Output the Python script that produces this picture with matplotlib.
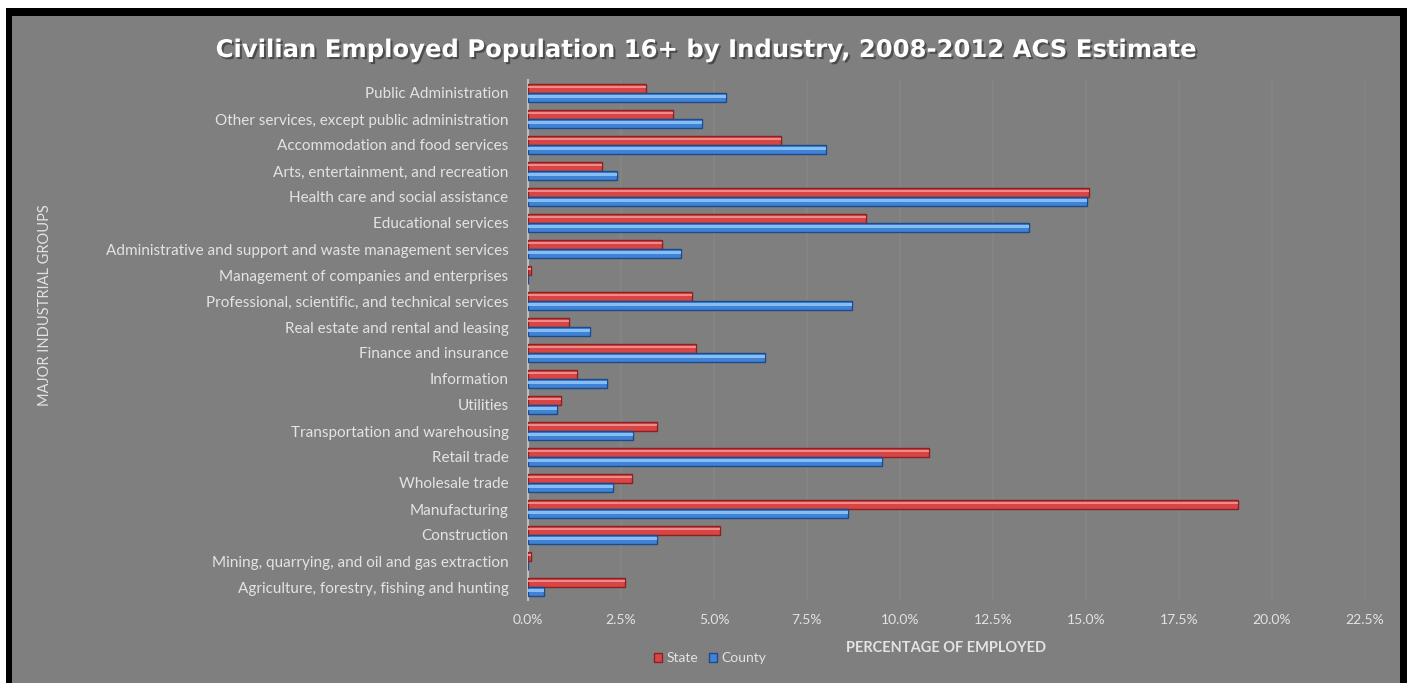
import matplotlib
matplotlib.use("Agg")
import matplotlib.pyplot as plt
import matplotlib.patheffects as pe
from matplotlib.patches import Rectangle
from matplotlib.ticker import FuncFormatter
import numpy as np

# категории (снизу вверх, как на графике)
industries = [
    "Agriculture, forestry, fishing and hunting",
    "Mining, quarrying, and oil and gas extraction",
    "Construction",
    "Manufacturing",
    "Wholesale trade",
    "Retail trade",
    "Transportation and warehousing",
    "Utilities",
    "Information",
    "Finance and insurance",
    "Real estate and rental and leasing",
    "Professional, scientific, and technical services",
    "Management of companies and enterprises",
    "Administrative and support and waste management services",
    "Educational services",
    "Health care and social assistance",
    "Arts, entertainment, and recreation",
    "Accommodation and food services",
    "Other services, except public administration",
    "Public Administration",
]

# проценты занятых
state = [2.6, 0.08, 5.16, 19.09, 2.8, 10.78, 3.47, 0.89, 1.32, 4.52,
         1.1, 4.41, 0.08, 3.6, 9.09, 15.08, 1.99, 6.8, 3.9, 3.17]
county = [0.42, 0.0, 3.47, 8.6, 2.28, 9.52, 2.82, 0.78, 2.12, 6.37,
          1.67, 8.71, 0.0, 4.11, 13.47, 15.03, 2.39, 8.01, 4.68, 5.32]

x_ticks = np.arange(0, 22.6, 2.5)

bg = "#7f7f7f"
txt = "#e3e3e3"
label_font = ["Lato", "DejaVu Sans"]

fig = plt.figure(figsize=(14.09, 6.83), dpi=100, facecolor="white")
W, H = 1409, 683

# рамка: белое поле, черная рамка, серый фон
fig.patches.append(Rectangle((6 / W, 0), 1401 / W, 675 / H, transform=fig.transFigure,
                             facecolor="black", edgecolor="none", zorder=-3))
fig.patches.append(Rectangle((12 / W, 0), 1388 / W, 667 / H, transform=fig.transFigure,
                             facecolor=bg, edgecolor="none", zorder=-2))

ax = fig.add_axes([528 / W, 83 / H, 837 / W, 520 / H])
ax.set_facecolor(bg)

y = np.arange(len(industries))
h = 0.34
off = 0.18

# основные полосы + светлая полоска сверху для объема
ax.barh(y + off, state, height=h, color="#d84545", edgecolor="#8a2222", linewidth=1.0, zorder=3)
ax.barh(y + off + 0.05, state, height=h * 0.3, color="#f08a8a", linewidth=0, zorder=4)
ax.barh(y - off, county, height=h, color="#3f82d6", edgecolor="#1d4a88", linewidth=1.0, zorder=3)
ax.barh(y - off + 0.05, county, height=h * 0.3, color="#86bdf2", linewidth=0, zorder=4)

ax.set_xlim(0, 22.5)
ax.set_ylim(-0.5, len(industries) - 0.5)
ax.set_xticks(x_ticks)
ax.xaxis.set_major_formatter(FuncFormatter(lambda v, p: f"{v:.1f}%"))
ax.set_yticks(y)
ax.set_yticklabels(industries)
ax.grid(axis="x", color="#868686", linewidth=1.2, zorder=0)
ax.set_axisbelow(True)

for s in ["top", "right", "bottom"]:
    ax.spines[s].set_visible(False)
ax.spines["left"].set_color("#bdbdbd")
ax.spines["left"].set_linewidth(1.5)
ax.tick_params(axis="both", length=0, colors=txt)
ax.tick_params(axis="x", pad=10)
ax.tick_params(axis="y", pad=14)
for lbl in ax.get_yticklabels():
    lbl.set_fontfamily(label_font)
    lbl.set_fontsize(11)
for lbl in ax.get_xticklabels():
    lbl.set_fontfamily(label_font)
    lbl.set_fontsize(10)

ax.set_xlabel("PERCENTAGE OF EMPLOYED", color=txt, fontsize=10.5, fontweight="bold",
              family=label_font, labelpad=11)

fig.text(45 / W, 1 - 305 / H, "MAJOR INDUSTRIAL GROUPS", rotation=90, color=txt,
         fontsize=10.5, family=label_font, ha="center", va="center")

title = fig.text(0.5, 1 - 50 / H,
                 "Civilian Employed Population 16+ by Industry, 2008-2012 ACS Estimate",
                 ha="center", va="center", color="white", fontsize=17.5, fontweight="bold")
title.set_path_effects([pe.withSimplePatchShadow(offset=(1.5, -1.5), shadow_rgbFace="#404040", alpha=0.8)])

handles = [Rectangle((0, 0), 1, 1, facecolor="#d84545", edgecolor="#8a2222"),
           Rectangle((0, 0), 1, 1, facecolor="#3f82d6", edgecolor="#1d4a88")]
leg = fig.legend(handles, ["State", "County"], loc="center", bbox_to_anchor=(710 / W, 1 - 658 / H),
                 ncol=2, frameon=False, handlelength=0.6, handleheight=0.6, handletextpad=0.3,
                 columnspacing=0.8, prop={"family": label_font, "size": 10})
for t in leg.get_texts():
    t.set_color(txt)

fig.savefig("out.png", dpi=100, facecolor=fig.get_facecolor())
